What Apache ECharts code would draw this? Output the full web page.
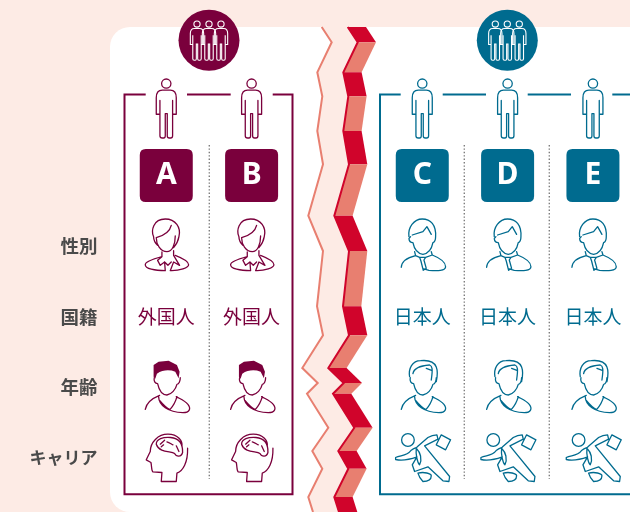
<!DOCTYPE html>
<html>
<head>
<meta charset="utf-8">
<style>html,body{margin:0;padding:0}#main{width:630px;height:512px}</style>
<script src="https://cdn.jsdelivr.net/npm/echarts@6/dist/echarts.min.js"></script>
</head>
<body>
<div id="main"></div>
<script>
// columns and rows of the table
const columns = ['A', 'B', 'gap', 'C', 'D', 'E'];
const rows = ['group', 'person', 'id', '性別', '国籍', '年齢', 'キャリア'];
const foreignTeam = ['A', 'B'];
const japaneseTeam = ['C', 'D', 'E'];
const foreignLabel = '外国人';
const japaneseLabel = '日本人';

// team badges
const groupX = [209, 507.3];
const groupY = [40.3, 40.3];

// torn edge in the middle
const tearX = [321.7, 331.7, 317.3, 322.3, 317.3, 323, 308.3, 323, 317, 323, 302.3, 317.7, 307, 328.3, 312.3, 322.3, 308.3, 313];
const tearY = [27, 42.3, 72.3, 96.3, 131, 164.3, 215.7, 251, 306.3, 335.3, 368, 383, 393.7, 427.7, 451, 468.7, 497, 512];

// frame lines, the gaps are where the people stand
const frameA = [
  [[145.7, 94.5], [124.5, 94.5], [124.5, 494.3], [292.5, 494.3], [292.5, 94.5], [272.7, 94.5]],
  [[187, 94.5], [230.7, 94.5]]
];
const frameB = [
  [[400.7, 94.5], [380, 94.5], [380, 494.3], [640, 494.3]],
  [[442.7, 94.5], [486, 94.5]],
  [[527.7, 94.5], [571, 94.5]],
  [[612.3, 94.5], [640, 94.5]]
];
const dividerX = [209.3, 464.3, 549.3];
const dividerY = [145, 479];

const MAGENTA = '#7a003c';
const TEAL = '#006b8f';
const BG = '#fdebe5';
const RED = '#d0042b';
const SALMON = '#e87f70';
const RIBBON_GAP = 26;
const RIBBON_W = 18.3;

// icons are drawn in a 180 box at 3x, the first two movetos pin the box
const BOX = 'M0 0M180 180';
const PERSON = BOX + 'M76 17a14 14 0 1 0 28 0a14 14 0 1 0 -28 0' +
  'M71 68L71 110L60 110L60 60Q60 37 78 37L102 37Q120 37 120 60L120 110L109 110L109 68' +
  'M71 110L71 175Q71 182 78 182L82 182Q87 182 87 175L87 108L93 108L93 175Q93 182 99 182L103 182Q109 182 109 175L109 110';
const WOMAN = BOX + 'M52 62C44 45 50 9 87 9C118 9 135 35 128 62C126 75 118 88 112 95M52 62C52 70 56 80 64 88' +
  'M60 65C60 85 72 107 92 107C108 107 117 85 117 60M60 65C78 60 100 50 105 28' +
  'M77 122C55 128 27 138 27 146C27 158 55 164 87 164M117 118C135 125 157 135 157 146C157 155 130 165 102 164' +
  'M77 122L64 133L72 148L85 138L87 164M112 118L130 148L112 138L102 164M85 138L95 148L105 138M77 108L77 122M112 104L112 118';
const SUIT_MAN = BOX + 'M50 62C46 35 65 9 90 9C115 9 132 27 130 62' +
  'M55 62L50 68C51 78 56 80 62 80C66 100 78 113 92 115C106 113 118 100 122 80C127 78 130 70 130 62' +
  'M60 57L92 47L104 32L117 55' +
  'M67 107L70 119C45 125 28 135 27 154M117 107L120 117C140 125 160 135 160 152C160 165 135 165 110 163L92 158' +
  'M82 124L100 124L95 132L102 157L93 163L86 135ZM70 119L82 124M120 117L100 124';
const HEAD_BODY = 'M54 62C52 72 56 80 64 80C68 98 78 114 92 114C106 112 118 98 122 82C128 82 132 72 132 62' +
  'M70 115C45 125 30 140 27 157M67 119C68 145 95 165 140 167C160 167 165 155 155 142C145 130 130 125 120 119' +
  'M70 130C85 148 95 155 101 158C108 150 118 135 122 119';
const YOUNG_MAN = BOX + HEAD_BODY;
const YOUNG_HAIR_LINE = BOX + 'M52 59C48 35 60 11 85 11C105 9 125 12 132 30C138 45 135 60 132 74' +
  'M62 50C65 32 85 26 112 24C120 27 122 35 117 69M102 34L118 40';
const YOUNG_HAIR_FILL = BOX + 'M52 24L67 14L97 11L122 24L130 44L127 64L117 44C100 38 80 38 62 50L57 65L52 59Z';
const BRAIN_HEAD = BOX + 'M75 162L77 135L50 133C45 130 47 118 44 105L30 97L42 72C42 45 65 20 95 20C125 20 140 40 137 58' +
  'M75 162L120 162L122 137C140 130 155 105 154 62' +
  'M60 50C60 35 80 28 103 30C125 32 140 45 139 75C135 90 120 88 115 78C105 70 70 78 60 50Z' +
  'M72 50L85 38M92 43C100 45 105 50 110 52M120 55L128 72M75 58L82 52';
const RUNNER = BOX + 'M28 37.5a19 19 0 1 0 38 0a19 19 0 1 0 -38 0' +
  'M132 52L147 22L175 37L160 67Z' +
  'M10 90C25 82 42 88 57 68C68 60 72 62 75 58L107 30C115 25 125 22 134 22L137 35L97 55L172 147L170 162L152 160L107 118L67 132L60 112L74 88C55 95 30 100 10 96Z' +
  'M77 137C95 132 117 138 117 145C117 158 105 162 92 162C85 155 80 148 77 137Z' +
  'M72 62C85 75 90 95 82 112C75 105 70 80 72 62Z';
const LETTER_BOX = 'path://M6 0L47 0Q53 0 53 6L53 47Q53 53 47 53L6 53Q0 53 0 47L0 6Q0 0 6 0Z';

function pts(names, row) {
  return names.map(function (n) { return [n, row]; });
}

function outline(name, path, names, row, color, offset) {
  return {
    name: name,
    type: 'scatter',
    data: pts(names, row),
    symbol: 'path://' + path,
    symbolSize: 60,
    symbolOffset: offset || [0, 0],
    silent: true,
    itemStyle: { color: 'transparent', borderColor: color, borderWidth: 1.3, opacity: 1, borderCap: 'round', borderJoin: 'round' },
    z: 5
  };
}

function filled(name, path, names, row, color) {
  return {
    name: name,
    type: 'scatter',
    data: pts(names, row),
    symbol: 'path://' + path,
    symbolSize: 60,
    silent: true,
    itemStyle: { color: color, opacity: 1 },
    z: 5
  };
}

function letters(names, color) {
  return {
    type: 'scatter',
    data: pts(names, 'id'),
    symbol: LETTER_BOX,
    symbolSize: 53,
    silent: true,
    itemStyle: { color: color, opacity: 1 },
    label: {
      show: true,
      position: 'inside',
      formatter: function (p) { return p.value[0]; },
      color: '#fff',
      fontFamily: '"Liberation Sans Narrow", "Noto Sans"',
      fontWeight: 'bold',
      fontSize: 30
    },
    z: 5
  };
}

function words(names, text, color) {
  return {
    type: 'scatter',
    data: pts(names, '国籍'),
    symbolSize: 1,
    silent: true,
    itemStyle: { color: 'transparent', opacity: 1 },
    label: {
      show: true,
      position: 'inside',
      formatter: text,
      color: color,
      fontFamily: 'Noto Sans CJK JP',
      fontSize: 19
    },
    z: 5
  };
}

function decoLine(data, color, width, type) {
  return {
    type: 'line',
    xAxisIndex: 1,
    yAxisIndex: 1,
    data: data,
    showSymbol: false,
    silent: true,
    clip: false,
    lineStyle: { color: color, width: width, type: type || 'solid', join: 'miter' },
    z: 3
  };
}

function badge(i, color) {
  const at = [[groupX[i], groupY[i]]];
  const list = [{
    type: 'scatter',
    xAxisIndex: 1,
    yAxisIndex: 1,
    data: at,
    symbolSize: 61,
    silent: true,
    itemStyle: { color: color, opacity: 1 },
    z: 6
  }];
  [-12, 12, 0].forEach(function (dx) {
    list.push({
      type: 'scatter',
      xAxisIndex: 1,
      yAxisIndex: 1,
      data: at,
      symbol: 'path://' + PERSON,
      symbolSize: 40,
      symbolOffset: [dx, 0],
      silent: true,
      itemStyle: { color: 'transparent', borderColor: '#fff', borderWidth: 1.1, opacity: 1 },
      z: 7
    });
  });
  return list;
}

const tearEdge = tearX.map(function (x, i) { return [x, tearY[i]]; });
const ribbonEdge = tearX.map(function (x, i) { return [x + RIBBON_GAP, tearY[i]]; });

const dividerData = [];
dividerX.forEach(function (x) {
  dividerData.push([x, dividerY[0]], [x, dividerY[1]], ['-', '-']);
});

const series = [
  // pink gap of the tear
  {
    type: 'custom',
    xAxisIndex: 1,
    yAxisIndex: 1,
    data: [0],
    silent: true,
    clip: false,
    z: 1,
    renderItem: function (params, api) {
      const left = tearEdge.map(function (p) { return api.coord(p); });
      const right = ribbonEdge.map(function (p) { return api.coord(p); }).reverse();
      return { type: 'polygon', shape: { points: left.concat(right) }, style: { fill: BG } };
    }
  },
  // red and salmon ribbon, one piece per step of the edge
  {
    type: 'custom',
    xAxisIndex: 1,
    yAxisIndex: 1,
    data: tearX.slice(0, -1),
    silent: true,
    clip: false,
    z: 2,
    renderItem: function (params, api) {
      const i = params.dataIndex;
      const a = ribbonEdge[i];
      const b = ribbonEdge[i + 1];
      const points = [a, [a[0] + RIBBON_W, a[1]], [b[0] + RIBBON_W, b[1]], b].map(function (p) { return api.coord(p); });
      return { type: 'polygon', shape: { points: points }, style: { fill: i % 2 === 0 ? RED : SALMON } };
    }
  },
  decoLine(tearEdge, SALMON, 2),
  decoLine(ribbonEdge, RED, 2),
  decoLine(dividerData, '#7d7d7d', 1.4, [1.4, 2])
];

frameA.forEach(function (seg) { series.push(decoLine(seg, MAGENTA, 2)); });
frameB.forEach(function (seg) { series.push(decoLine(seg, TEAL, 2)); });

series.push(
  outline('person', PERSON, foreignTeam, 'person', MAGENTA, [0, 3]),
  outline('person', PERSON, japaneseTeam, 'person', TEAL, [0, 3]),
  letters(foreignTeam, MAGENTA),
  letters(japaneseTeam, TEAL),
  outline('性別', WOMAN, foreignTeam, '性別', MAGENTA),
  outline('性別', SUIT_MAN, japaneseTeam, '性別', TEAL),
  words(foreignTeam, foreignLabel, MAGENTA),
  words(japaneseTeam, japaneseLabel, TEAL),
  filled('年齢', YOUNG_HAIR_FILL, foreignTeam, '年齢', MAGENTA),
  outline('年齢', YOUNG_MAN, foreignTeam, '年齢', MAGENTA),
  outline('年齢', YOUNG_MAN, japaneseTeam, '年齢', TEAL),
  outline('年齢', YOUNG_HAIR_LINE, japaneseTeam, '年齢', TEAL),
  outline('キャリア', BRAIN_HEAD, foreignTeam, 'キャリア', MAGENTA),
  outline('キャリア', RUNNER, japaneseTeam, 'キャリア', TEAL)
);
Array.prototype.push.apply(series, badge(0, MAGENTA));
Array.prototype.push.apply(series, badge(1, TEAL));

const chart = echarts.init(document.getElementById('main'), null, { renderer: 'canvas' });
chart.setOption({
  animation: false,
  backgroundColor: BG,
  // white sheet behind everything
  graphic: [{
    type: 'rect',
    shape: { x: 110, y: 27, width: 560, height: 485, r: 20 },
    style: { fill: '#fff' },
    silent: true,
    z: 0
  }],
  grid: [
    { left: 123.6, width: 512, top: -0.75, height: 493.5, outerBoundsMode: 'none' },
    { left: 0, right: 0, top: 0, bottom: 0, outerBoundsMode: 'none' }
  ],
  xAxis: [
    { type: 'category', data: columns, show: false, gridIndex: 0 },
    { type: 'value', min: 0, max: 630, show: false, gridIndex: 1 }
  ],
  yAxis: [
    {
      type: 'category',
      data: rows,
      inverse: true,
      gridIndex: 0,
      axisLine: { show: false },
      axisTick: { show: false },
      splitLine: { show: false },
      axisLabel: {
        margin: 26,
        color: '#4a4a4a',
        fontFamily: 'Noto Sans CJK JP',
        fontWeight: 'bold',
        fontSize: 18.5,
        // the katakana label sits a little tighter in the original
        rich: { kana: { fontFamily: 'Noto Sans CJK JP', fontWeight: 'bold', color: '#4a4a4a', fontSize: 17 } },
        formatter: function (v, i) {
          if (i < 3) return '';
          return v === 'キャリア' ? '{kana|' + v + '}' : v;
        }
      }
    },
    { type: 'value', min: 0, max: 512, inverse: true, show: false, gridIndex: 1 }
  ],
  series: series
});
</script>
</body>
</html>
